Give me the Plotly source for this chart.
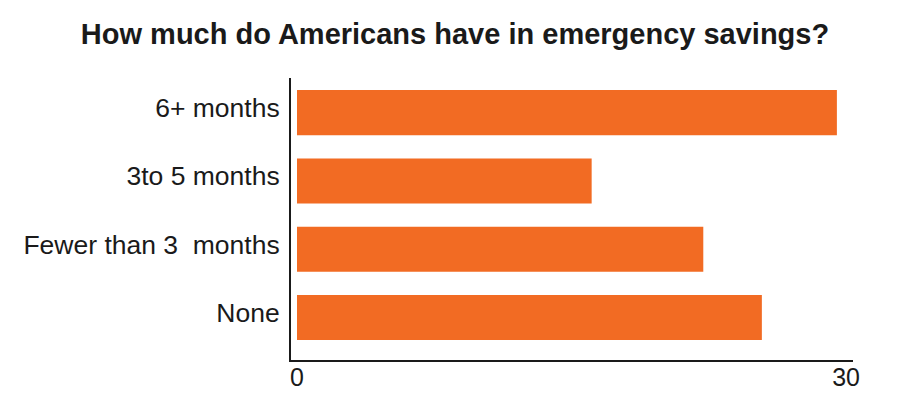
import plotly.graph_objects as go

categories = ["None", "Fewer than 3\u00a0\u00a0months", "3to 5 months", "6+ months"]
values = [25.4, 22.2, 16.1, 29.5]
x_tickvals = [0, 30]
x_ticktext = ["0", "30"]
title_text = "How much do Americans have in emergency savings?"

FONT = "Liberation Sans, Arial, Helvetica, sans-serif"
BAR = "#F26B23"
INK = "#1a1a1a"

fig = go.Figure(
    go.Bar(
        x=values,
        y=categories,
        orientation="h",
        marker=dict(color=BAR, line=dict(width=0)),
        width=0.66,
        hoverinfo="skip",
    )
)

fig.update_layout(
    template="none",
    width=900,
    height=393,
    autosize=False,
    margin=dict(l=291, r=47, t=78, b=33, pad=0, autoexpand=False),
    paper_bgcolor="white",
    plot_bgcolor="white",
    showlegend=False,
    font=dict(family=FONT, color=INK),
    title=dict(
        text=title_text,
        font=dict(family=FONT, size=29, color=INK, weight="bold"),
        x=455 / 900,
        xanchor="center",
        xref="container",
        y=1 - 34 / 393,
        yanchor="middle",
        yref="container",
    ),
)

fig.update_xaxes(
    automargin=False,
    range=[-0.328, 30.38],
    tickvals=x_tickvals,
    ticktext=x_ticktext,
    showgrid=False,
    zeroline=False,
    showline=True,
    linecolor=INK,
    linewidth=2,
    ticks="",
    ticklabelstandoff=-6,
    tickfont=dict(family=FONT, size=25, color=INK),
    fixedrange=True,
)

fig.update_yaxes(
    automargin=False,
    categoryorder="array",
    categoryarray=categories,
    range=[-0.622, 3.507],
    showgrid=False,
    zeroline=False,
    showline=True,
    linecolor=INK,
    linewidth=2,
    ticks="",
    ticklabelstandoff=4,
    ticklabelshift=-5,
    tickfont=dict(family=FONT, size=26.5, color=INK),
    fixedrange=True,
)

fig.write_html(
    "out.html",
    config={"displayModeBar": False},
    post_script="document.body.style.margin='0';",
)
